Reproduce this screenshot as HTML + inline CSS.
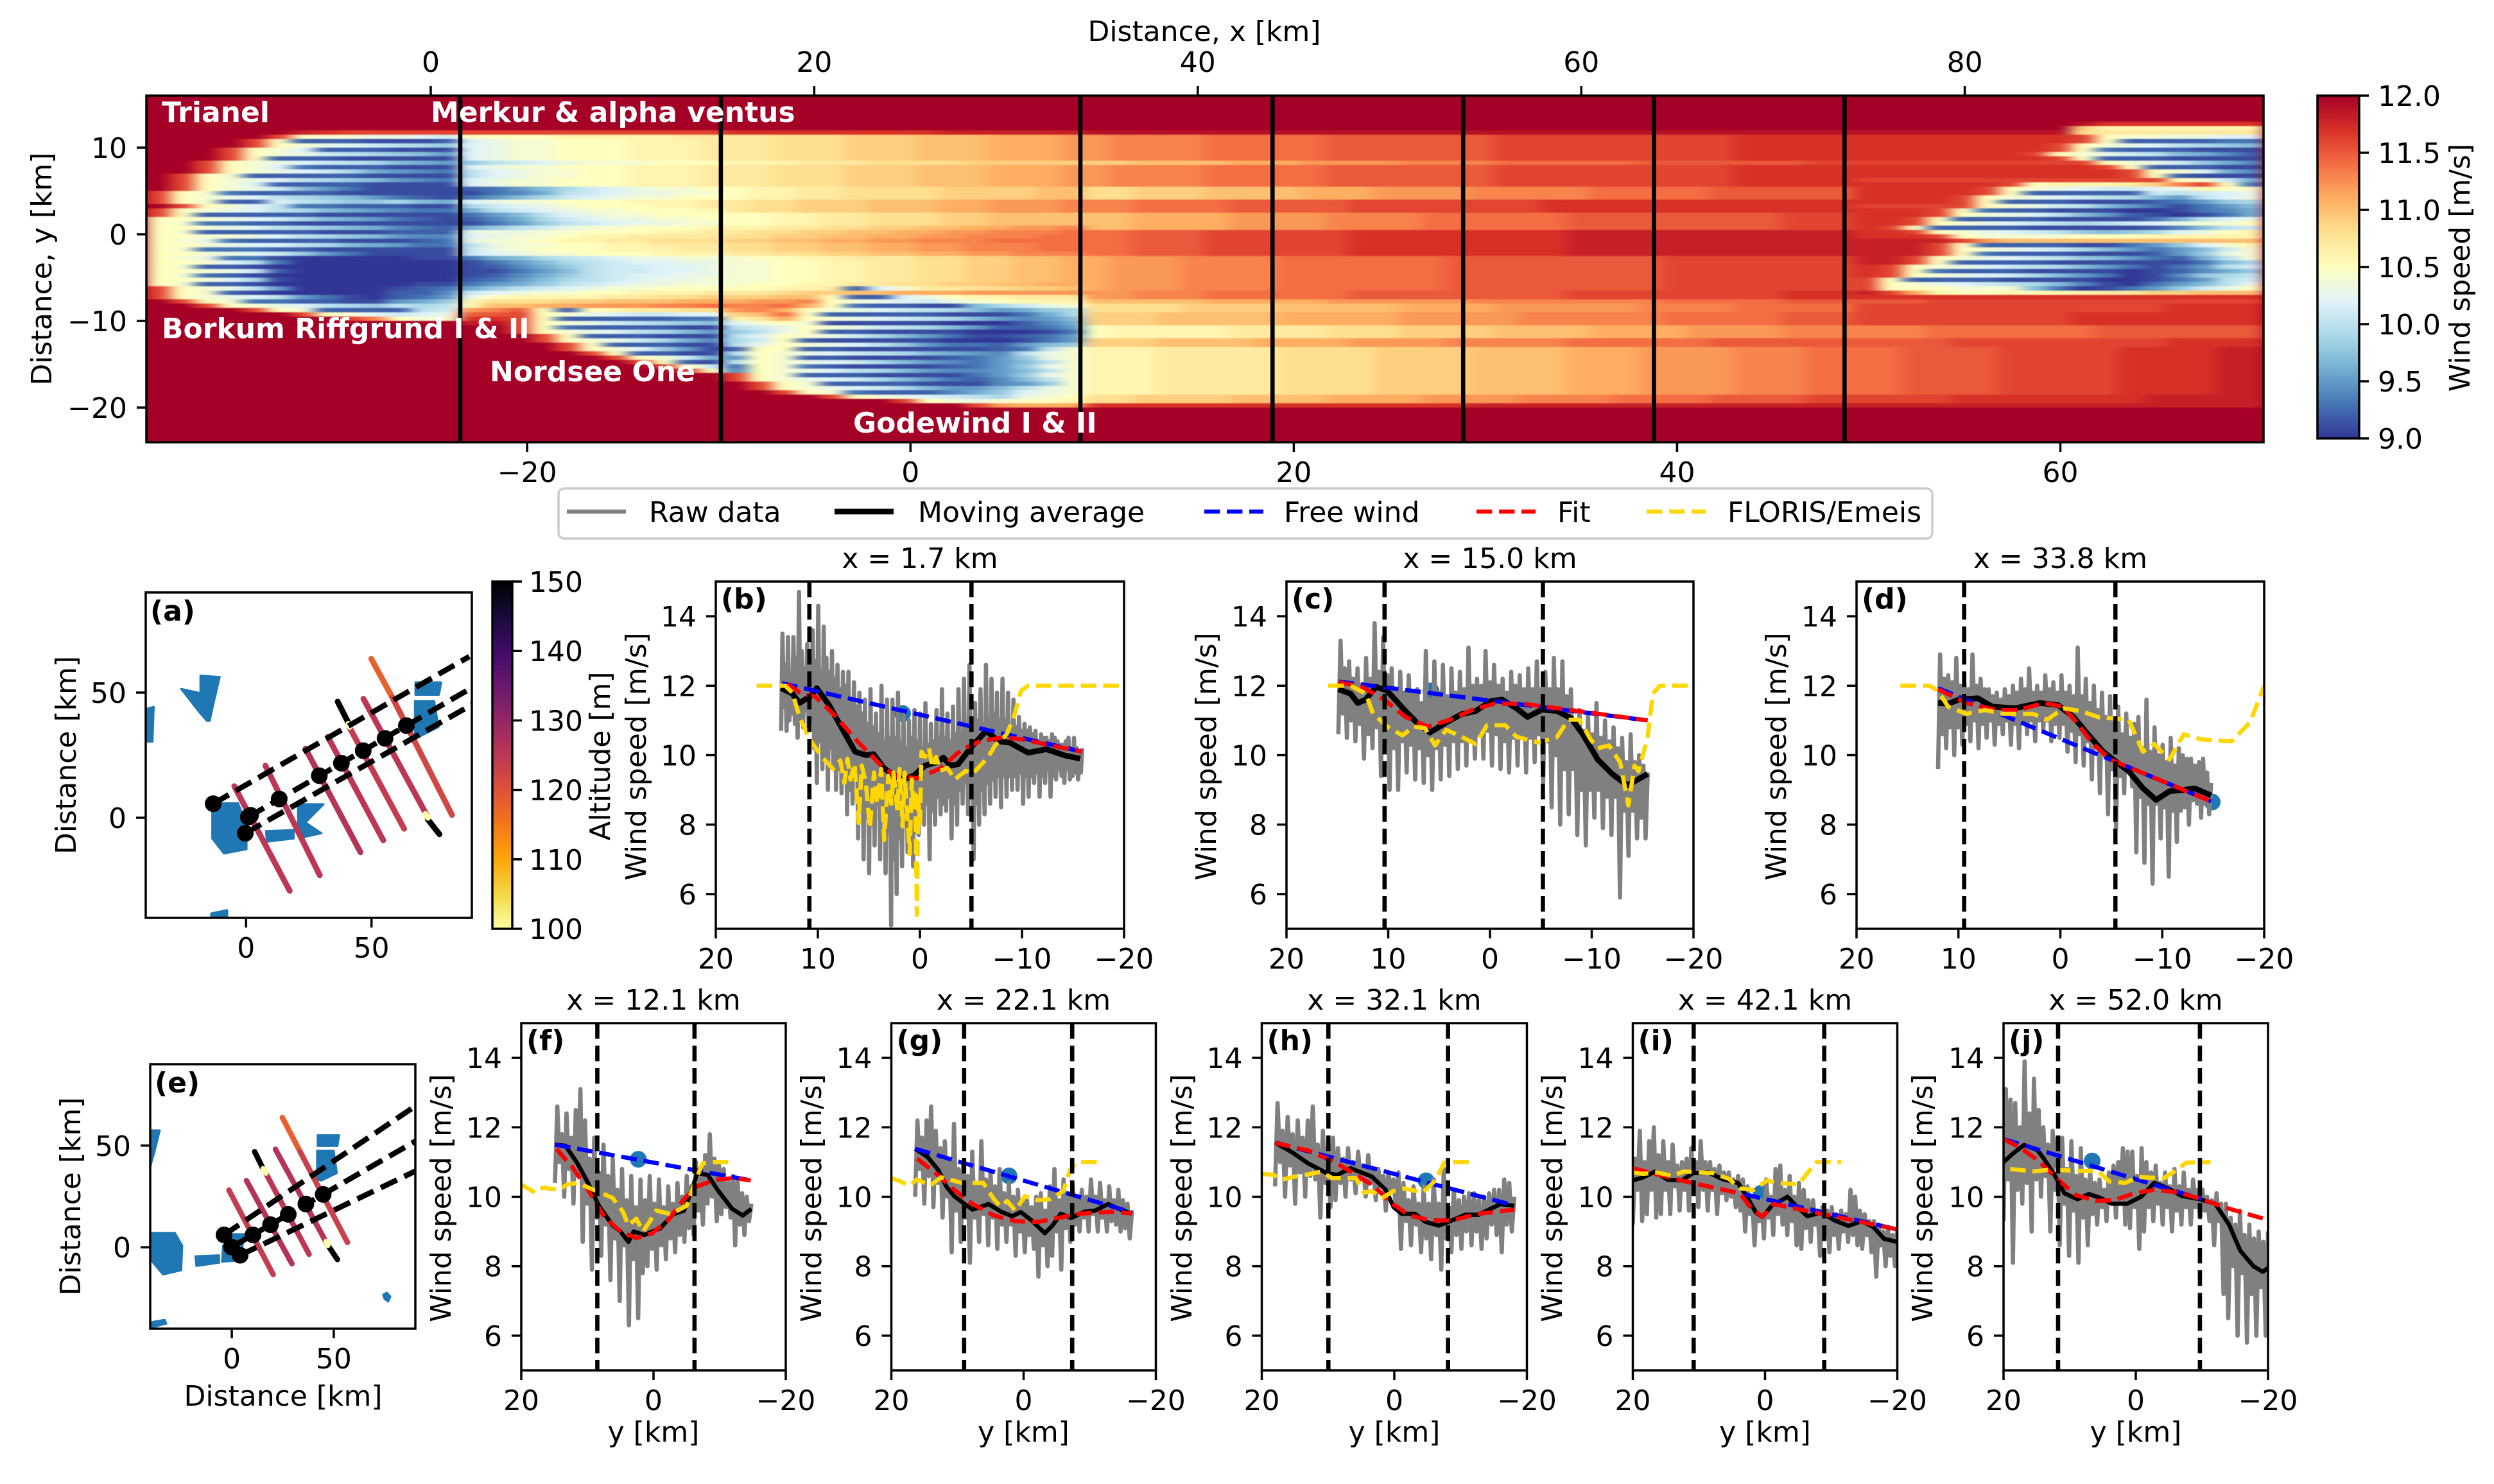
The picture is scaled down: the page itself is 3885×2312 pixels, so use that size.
<!DOCTYPE html>
<html lang="en">
<head>
<meta charset="utf-8">
<title>Wind speed wake transects</title>
<style>
html,body{margin:0;padding:0;background:#fff;}
svg{display:block;font-family:"DejaVu Sans","Liberation Sans",sans-serif;}
text{font-size:44px;fill:#000;}
</style>
</head>
<body>
<svg id="figure" xmlns="http://www.w3.org/2000/svg" width="3885" height="2312" viewBox="0 0 3885 2312">
<defs>
<filter id="heat-blur" filterUnits="userSpaceOnUse" x="170" y="120" width="3420" height="600" color-interpolation-filters="sRGB"><feGaussianBlur stdDeviation="12 0.7"/></filter>
</defs>
<rect width="3885" height="2312" fill="#fff"/>
</svg>
<script>
/* ---------- heatmap values: each character is a level, 0 = 9.0 m/s ... u = 12.0 m/s, 0.1 m/s per level ---------- */
const heatLevels = '0123456789abcdefghijklmnopqrstu';
const heatXRange = [-39.87, 70.6];
const heatYRange = [16, -24];
const uA='uuuuuuuuuuuuu', uB='uuuuuuuuuuu', uC='uuuuuuuuuuuuuuu', uD='uuuuuuuuuuuuuuuuuuuuuuuuuuuuuuuu', uE='uuuuuuuuuuuuuuuuu';
const d1='mnnnnooooopppppppqqqqqqqqqqrrrrr', d2='jjkkkklllmmmmnnnnoooooopppppppqq', d3='iijjjkkkklllmmmmnnnnnooooopppppp';
const d4='nnoooopppppqqqqqqqqrrrrrrrrrrrrr', d5='kkllllmmmmnnnnoooooopppppppppqqq', d6='oopppqqqqqqrrrrrrrrrssssssssssss';
const d7='lmmmnnnnooooooopppppppppqqqqqqqq', d8='mmnnnoooooopppppppppqqqqqqqqqrrr', d9='kkkkklllllmmmmmmnnnnnnnnoooooppp';
const d10='iiiijjjjkkkkkllllmmmmmmnnnnooooo', d11='jjjkkkkklllllmmmmmnnnnnnoooooppp', d12='fggggghhhhiiijjjjkkkkllllmmmmnnn';
const d13='jjjkkkkllllmmmmnnnnnoooooopppppp', d14='ggghhhhhiiiijjjjkkkklllmmmmnnnoo', d15='iijjjjkkkkllllmmmmnnnnooooppppqq';
const d16='rrrrrrrrrrrrrrrrssssssssssssssss', dT='tttttttttttttttttttttttttttttttt';
const bT='cdeefffgggh', cT='hhiiijjjkkklllm', cB='effgghhhiijjkkl', cM='fgghhiiiijjjjkk', cL='hiijjjkkkllmmmn', cK='ffgghhiiijjkkkk', cN='iijjkkllmmnnnoo', cG='eeffgghhiijjkkl';
const heatRows = [
uA+uB+uC+uD+uE,
uA+uB+uC+uD+uE,
uA+uB+uC+uD+uE,
uA+uB+uC+uD+uE,
uA+uB+uC+uD+uE,
uA+uB+uC+uD+uE,
uA+uB+uC+uD+'uuuuuuuuutrrrrrrr',
uA+uB+uC+uD+'uuuuuuuuujggggggg',
'uuuuuusrqqqqq'+'qqqqqqqqqqq'+'rrrrrrrrrssssss'+dT+'tttttttttihhhhhhh',
'uuuuuqfeeddcb'+'ffffggggghh'+cT+d1+'rrrrrrrrrqfeeddcc',
'uuuuqf2221112'+bT+cT+d1+'rrrrrrrrrqf222233',
'uuuuqfedcba98'+bT+cT+d1+'rrrrrrrrqfedca987',
'uuuqfec222111'+bT+cT+d1+'rrrrrrrrqf3222111',
'uuuqfedba9875'+bT+cT+d1+'rrrrrrrqfedba7642',
'uuuqf22211111'+bT+cT+d1+'rrrrrrrrqf2221111',
'uuqfedcba9765'+'8abcdeeefff'+'ggghhhiiiijjjjj'+d2+'qqqqqqqqqqfedb864',
'uuqfec3222111'+bT+cT+d1+'rrrrrrrrrrqf22211',
'uuqfedcb96543'+'acdeeffgggh'+cT+d1+'rrrrrrrrrrrqfec64',
'uqfe222221111'+'acdeeffgggh'+cT+d1+'rrrrrrrrrrrqf2111',
'uqfedca987543'+bT+cT+d1+'qqqqqqqqqqqqqfeb6',
'uqfec22221111'+bT+cT+d1+'rrrrrrqfggghjnqf3',
'uqfedb7531111'+'23579bcdeef'+cM+d3+'rrrrrqfedcbbcdgfe',
'qfe3222211111'+'1346abcddee'+cM+d3+'rrrrrqf22222babcd',
'qfedca9875321'+'3579bcdeeff'+cM+d3+'rrrrqfedcba975acd',
'qfe22ca988976'+bT+cL+d4+'rrrrqf22211123589',
'uqfeca3322211'+'9bcdefffggh'+cL+d4+'qqqqqfedba7531357',
'qfedca9765433'+'6abcdeefffg'+cL+d4+'rrrqf322111001346',
'qf22222111111'+'357acdeefff'+cK+d5+'rrrqfedca75210136',
'ffedcb9765321'+'2469bcddeef'+cK+d5+'rrqf2222111136acd',
'fe33221111111'+'1358abcddee'+cK+d5+'rrqfedcba9abcdeef',
'ffedca9876432'+'68abdeefffg'+'gghhiijjkkllmmn'+d5+'rqf222211111247ab',
'fe22222111222'+'dddeefffggh'+'hiijjkkllmmnnno'+d6+'rrqfedcba8789cdfg',
'ffeedca987544'+'cdeefgghhhh'+cN+d6+'rrrqfeeeefffggggg',
'fed3222211123'+'deefgghhiii'+'jjkkllmmnnnoooo'+d6+'ssssqmkkkkkkkkkkk',
'ffedcca976533'+'adeeffgghhh'+cN+d6+'sssqf222211358ceg',
'fe33322111111'+'bdefffggghh'+cN+d6+'sssqfedcb975357be',
'ffedcb8531111'+'bcdeefffggg'+'hhiijjkkllmmnnn'+d6+'sssqf3222111258de',
'fed3310000011'+'3679abcddee'+cB+d7+'ssqfedcba875326ae',
'ffeca30000000'+'13579abccdd'+cG+d7+'ssqf2222111111379',
'fe22100000000'+'12468abbccd'+cG+d7+'rqfedcba9753135ab',
'ffedb20000000'+'11357abbccd'+cG+d7+'rqf32221111012468',
'fe32100000000'+'12468abccdd'+cG+d7+'rqfedcb975301489a',
'ffec910000000'+'23579abcdde'+cG+d7+'qf2222111100135ab',
'fe22100000011'+'3568abcddee'+'effgghhiijjkkll'+d7+'qfedcba97410357ad',
'qfeda50000123'+'68abcdeefff'+'ffggh2cehhiijjk'+d7+'qfffeee7301358bdf',
'qfe2100000224'+'bcdeeffgggh'+'hhijjkklllmmmmm'+d8+'sqlgffgfgghhjjkkk',
'qfedca5310235'+'dfgggghhiij'+'jjkkf22cdfgghhh'+d8+'rrrrrrrrrrrrrrrrr',
'uqfe332211568'+'giiijjkkkll'+'lmmnfedcbdefggg'+d9+'pppqqqqqqqqqqqqqq',
'uuqfedca98a9a'+'gkkllmmmnno'+'nnolf3221179bde'+d10+'qqqqqqqqqqqqqrrrr',
'uuuuqfe2222ab'+'mnpf2fghhii'+'mnlfedcba975689'+d10+'qqqqqqqqqqqqqrrrr',
'uuuuuuqfecbcd'+'ppqfedcbbcc'+'jkof22222111369'+d11+'qqqqqqqqqrrrrrrrr',
'uuuuuuuuqnfee'+'rrqf2222233'+'ghlfedcba975457'+d11+'qqqqqqqqqrrrrrrrr',
uA+'stqfedba987'+'cefe11111000246'+d11+'qqqqqqqqqrrrrrrrr',
uA+'uuqf3222211'+'abdfedba9752235'+d12+'nnnoooooooppppppp',
uA+'uuqfedca975'+'8adf22111100013'+d12+'nnnoooooooppppppp',
uA+'uuuqf222111'+'acfedb975311235'+d12+'nnnoooooooppppppp',
uA+'uuuqfedb964'+'9bf211111000135'+d13+'ppppqqqqqqqqqrrrr',
uA+'uuuuqf22211'+'adfedca85332578'+d13+'ppppqqqqqqqqqrrrr',
uA+'uuuuqfec851'+'2ff2211111123ae'+d14+'ooppppqqqqqrrrrss',
uA+'uuuuuqf2211'+'afedcba97654ade'+d14+'ooppppqqqqqrrrrss',
uA+'uuuuuuqfeb6'+'5fe2211112358de'+d14+'ooppppqqqqqrrrrss',
uA+'uuuuuuuqf21'+'afedcb9754357ae'+d14+'ooppppqqqqqrrrrss',
uA+'uuuuuuuuqfb'+'3fe3211112358de'+d14+'ooppppqqqqqrrrrss',
uA+'uuuuuuuuuqf'+'4fedca9754457ae'+d14+'ooppppqqqqqrrrrss',
uA+uB+'qfe2221111358de'+d14+'ooppppqqqqqrrrrss',
uA+uB+'qfedcb9753247ae'+d14+'ooppppqqqqqrrrrss',
uA+uB+'uqfe2222111458e'+d14+'ooppppqqqqqrrrrss',
uA+uB+'uqfedcb97557ade'+d14+'ooppppqqqqqrrrrss',
uA+uB+'uuqfe3222468cde'+d14+'ooppppqqqqqrrrrss',
uA+uB+'uuuuqfedcba9def'+d15+'qqqqrrrrrrrrsssss',
uA+uB+'uuuuuuuqfedeffg'+d15+'qqqqrrrrrrrrsssss',
uA+uB+'uuuuuuuuuuqmlll'+d16+'sssssssssssssssss',
uA+uB+uC+uD+uE,
uA+uB+uC+uD+uE,
uA+uB+uC+uD+uE,
uA+uB+uC+uD+uE,
uA+uB+uC+uD+uE,
uA+uB+uC+uD+uE,
uA+uB+uC+uD+uE,
uA+uB+uC+uD+uE
];
const mainBottomTicks = [-20, 0, 20, 40, 60];
const mainTopTicks = [0, 20, 40, 60, 80];
const mainYTicks = [10, 0, -10, -20];
const mainSectionLines = [1.54, 15.13, 33.88, 43.9, 53.84, 63.79, 73.73];
const windTicks = [9, 9.5, 10, 10.5, 11, 11.5, 12];
const altitudeTicks = [100, 110, 120, 130, 140, 150];
const farmNames = ['Trianel','Merkur & alpha ventus','Borkum Riffgrund I & II','Nordsee One','Godewind I & II'];

/* ---------- transect panels ---------- */
const topRowXTicks = [20, 10, 0, -10, -20];
const bottomRowXTicks = [20, 0, -20];
const speedTicks = [6, 8, 10, 12, 14];

const rawSpanB=[13.6,-15.9];
const rawB=[10.7,13.5,11.4,12.6,10.7,13.4,11,12.3,11.2,13.4,10.9,12.8,10.5,14.7,11,13,10.8,12.5,11.3,13.2,10.8,12.6,11,13.6,10.2,12.7,9.2,14.3,10.4,12.4,9.6,13.7,10,12.8,9,12.4,10.2,13,9.6,12.2,9,12.6,9.6,11.9,8.9,12.4,9.4,12,8.3,12.4,9,11.6,8.6,12.1,9.4,11.4,7.6,11.8,8.4,11.2,7,11.6,8.2,10.9,6.6,11.9,8,10.8,7.4,11.2,8.6,10.6,7,12,8.2,10.4,6.6,11.6,7.8,10.5,5.1,11.6,7,10.5,6,11.8,7.6,10.4,6.8,11.2,8,10.2,7.2,11,8.2,10.5,6.8,11.3,7.8,10.4,7.7,11.2,8.4,10.2,8,11.5,8.6,10.3,7,10.9,8.4,10.4,8,11.3,8.8,10.5,8.3,11.9,8.6,10.5,8.4,11.2,8.8,10.4,7.6,11.4,8.6,10.6,8,11.9,9,10.6,8.6,12.2,9.2,10.8,8.3,12.6,9,10.9,7,11.5,8.6,11,8,11.9,9,10.9,8.3,12.6,9.2,11,8.6,12.2,9.3,11.2,8.8,11.8,9.4,11,8.5,12.2,9.4,11,8.8,11.8,9.4,10.8,9,11.6,9.4,10.8,9,11.1,9.5,10.7,8.6,10.9,9.4,10.7,8.8,10.8,9.4,10.6,9.2,10.7,9.5,10.4,8.8,10.6,9.4,10.5,9.2,10.5,9.6,10.4,8.8,10.6,9.4,10.5,9.3,10.4,9.6,10.3,9.4,10.3,9.2,10.4,9.6,10.5,9.3,10.2,9.4,10.5,9.5,10.2,9.3,10.1,9.5,10.2];
const avgB=[[13.6,11.93],[12.5,11.77],[11.8,11.5],[10.7,11.7],[10.1,11.93],[8.9,11.44],[7.8,10.86],[6.35,10.1],[5.3,10],[4.55,10.03],[3.5,9.62],[2.4,9.41],[1.7,9.29],[0.6,9.41],[-0.5,9.7],[-1.6,9.79],[-2.3,9.93],[-3,9.7],[-3.75,9.74],[-5.05,10.24],[-6.5,10.7],[-7.7,10.4],[-8.8,10.36],[-10.6,10.07],[-12.4,10.17],[-14.2,9.99],[-15.7,9.9]];
const freeB=[[13.5,12.07],[-15.9,10.1]];
const fitB=[[13,12.05],[11.5,11.75],[10.3,11.7],[8.2,11.1],[6,10.36],[3.8,9.7],[2.4,9.41],[0.2,9.33],[-2,9.62],[-4.1,10.16],[-5.9,10.4],[-8.1,10.51],[-10.2,10.45],[-13.1,10.26],[-15.9,10.1]];
const florisB=[[16,12],[13.2,12],[12.5,11.8],[11.8,11.1],[10.8,10.45],[9.6,9.95],[8.5,9.6],[7.8,9.85],[7.4,9.2],[7.1,9.9],[6.8,9.3],[6.4,9.75],[6,8.05],[5.7,9.7],[5.3,9.2],[4.9,7.9],[4.5,9.5],[4.2,8.6],[3.8,9.6],[3.5,7.55],[3.1,9.4],[2.8,8.6],[2.6,9.5],[2.2,8.4],[2,9.6],[1.7,7.95],[1.5,9.5],[1.3,8.5],[1,7.15],[0.8,9.3],[0.6,8.4],[0.45,9],[0.3,5.4],[0.15,8.8],[0,7.95],[-0.15,10.1],[-0.5,9.95],[-0.9,10.2],[-1.2,9.65],[-1.6,9.95],[-2,9.55],[-2.7,9.63],[-3.4,9.3],[-4.5,9.55],[-5.2,9.47],[-6.7,9.95],[-7.4,10.3],[-8.5,10.6],[-9.2,11.1],[-9.9,11.85],[-10.6,12],[-20,12]];
const edgesB=[10.83,-5.05];
const markerB=[1.7,11.2];

const rawSpanC=[14.9,-15.5];
const rawC=[10.6,13.3,11.2,12.5,10.5,12.7,11,12.2,10.4,12.5,10.9,12,9.9,12.8,10.6,12.2,10.2,13.8,10.8,12.4,9.4,13.4,10.5,12.3,9,12.5,10.2,11.9,9,12.4,10.4,11.8,9.5,12.3,10.3,11.8,9.3,11.9,10.2,11.5,9.2,13,10,11.6,9,12.7,10.2,11.8,9.3,12.6,10.3,11.7,9.4,12.5,10.4,11.8,9.6,12.4,10.4,11.9,9.7,13.1,10.5,12,9.9,12.2,10.6,12,9.9,13,10.7,12.1,9.7,12.6,10.6,12,9.6,12.2,10.4,11.8,9.5,12.4,10.5,12,9.7,12.3,10.5,11.9,9.5,12.5,10.5,11.9,9.8,12.7,10.6,11.9,9.2,12.4,10.4,11.9,8.5,12.8,10,11.9,8,12.7,9.6,11.7,8.3,11.9,9.6,11,7.7,11.3,9,10.7,7.4,11.2,9,10.6,8.2,11.5,9,10.5,7.9,11,8.8,10.4,7.7,10.8,8.8,10.2,5.9,10.5,8.4,9.8,7.1,10.6,8.4,9.8,7.6,10,8.2,9.7,7.6,9.5];
const avgC=[[14.9,11.9],[13.7,11.77],[13,11.5],[12.2,11.6],[11.2,11.97],[10.1,11.85],[8.3,11.27],[7.2,10.94],[5.9,10.65],[4.3,10.94],[2.8,11.18],[1.4,11.27],[-0.1,11.56],[-1.2,11.6],[-2.6,11.35],[-3.7,11.1],[-5.1,11.31],[-6.6,11.27],[-8,11.06],[-9.1,10.61],[-10.6,9.87],[-12,9.46],[-13.5,9.13],[-15.5,9.46]];
const freeC=[[14.9,12.12],[-15.5,11]];
const fitC=[[14.9,12.1],[12.6,11.97],[10.4,11.6],[8.3,11.1],[6.1,10.82],[3.9,11.02],[1.7,11.31],[-0.4,11.48],[-3.3,11.48],[-15.5,11]];
const florisC=[[15.9,12],[13.7,12],[12.2,11.77],[11.5,11.2],[10.1,10.82],[8.6,10.57],[7.5,10.82],[6.4,10.78],[5.4,10.28],[4.3,10.73],[2.8,10.53],[1.4,10.32],[0.3,10.86],[-1.5,10.86],[-2.6,10.53],[-4.8,10.36],[-6.6,10.53],[-7.7,11.02],[-8.8,11.02],[-9.9,10.45],[-10.6,10.2],[-11.7,10.28],[-12.8,9.79],[-13.6,8.55],[-14.2,9.7],[-14.6,9.54],[-15.5,10.53],[-16,11.77],[-16.7,12],[-20,12]];
const edgesC=[10.36,-5.2];
const markerC=[5.8,11.85];

const rawSpanD=[12,-14.8];
const rawD=[9.6,12.9,10.6,12.2,10.2,12.3,10.8,12.1,10,12.8,10.8,12,10.3,12.1,10.9,11.9,10.4,12.9,11,12,10.2,12.2,10.9,11.9,10.5,11.9,11,11.7,10.3,11.8,10.9,11.6,10.6,11.9,11,11.7,10.3,12,10.9,11.8,10.2,12.2,11,11.9,10.6,12.5,11,11.8,10.4,12,11,11.8,10.7,12.3,11,11.9,10.4,12.1,10.9,11.8,10.5,12.3,10.9,11.8,10.1,12,10.7,11.7,9.8,13.1,10.6,11.7,9.7,12.2,10.4,11.5,9.3,12,10.2,11.3,8.9,11.8,10,11.1,8.3,11.7,9.6,10.9,7.9,11.4,9.4,10.6,8.9,11.2,9.6,10.5,9.1,10.9,7.2,11.1,8.8,10.2,6.9,11.6,8.6,10.1,6.3,10.8,8.6,10,7.6,10.3,8.5,9.8,6.5,10.5,8.4,9.7,7.5,10.2,8.4,10,8.5,9.9,8,9.9,8.7,9.7,8.6,9.8,8.2,9.9,8.6,9.5,8.3,9.2];
const avgD=[[12,11.5],[11,11.48],[9.95,11.6],[8.1,11.64],[6.7,11.4],[4.5,11.35],[2,11.5],[0.2,11.44],[-1.3,11.1],[-2.7,10.6],[-4.2,10.1],[-5.2,9.87],[-6.7,9.54],[-8.1,9.05],[-9.4,8.71],[-10.7,8.96],[-12.1,9],[-13.2,9.04],[-14.8,8.84]];
const freeD=[[12,11.93],[-14.8,8.67]];
const fitD=[[12,11.9],[9.2,11.5],[6.3,11.3],[4.2,11.3],[1.6,11.5],[-0.2,11.4],[-1.6,10.94],[-3.1,10.36],[-4.9,9.87],[-14.8,8.67]];
const florisD=[[15.7,12],[12.8,12],[12,11.85],[11,11.39],[9.2,11.19],[7.4,11.3],[5.6,11.19],[4.2,11.19],[2.7,11.19],[1.3,11.02],[-0.3,11.35],[-2,11.27],[-3.8,11.09],[-6.7,11.02],[-8.1,10.1],[-9.2,10.32],[-10.7,9.87],[-12.1,10.6],[-13.9,10.45],[-16.8,10.4],[-18.6,10.94],[-20,12]];
const edgesD=[9.44,-5.4];
const markerD=[-14.9,8.65];

const rawSpanF=[14.9,-14.8];
const rawF=[10.4,12.6,11,11.8,10,12.4,10.8,11.7,9.8,12.5,10.6,13.1,8.7,12.2,9.8,11.1,7.9,11.7,9.4,10.7,8.3,11.5,9.2,10.6,7.6,11.1,8.8,10.2,7,10.8,8.6,9.9,6.3,10.6,8.2,9.7,6.5,10.5,7.8,9.9,8,10.6,8.5,9.8,7.9,10.5,8.6,9.7,8.2,10.3,8.8,9.8,8.4,10.4,8.9,10,8.7,10.6,9.1,10.3,8.9,11,9.6,10.6,9.2,11.2,9.8,11.8,10,11.1,9.3,10.9,9.5,10.8,9.7,10.4,9.4,10.6,8.6,10.5,9.2,10.1,8.9,10,9.3,9.8];
const avgF=[[14.9,11.5],[13.3,11.47],[11.5,10.96],[9.9,10.4],[8.25,9.74],[6.2,9.18],[5,9],[3.8,8.7],[3,9],[1.4,8.9],[-1,9.09],[-3,9.5],[-4.6,9.6],[-5.8,10.2],[-6.6,10.68],[-8.2,10.63],[-9.8,10.17],[-11.9,9.65],[-13.5,9.46],[-14.8,9.65]];
const freeF=[[14.9,11.5],[-14.8,10.47]];
const fitF=[[14.7,11.38],[12.3,10.86],[9.9,10.2],[7.45,9.42],[5,9],[2.6,8.81],[0.2,8.95],[-2.2,9.32],[-4.6,9.93],[-6.6,10.3],[-9.4,10.49],[-12.3,10.54],[-14.7,10.47]];
const florisF=[[20,10.35],[17.9,10.12],[16.7,10.26],[14.3,10.2],[13.1,10.35],[11.5,10.4],[8.7,10.17],[6.2,9.97],[4.6,9.56],[3.8,9.18],[2.6,9.37],[1.6,9],[0.6,9.28],[-0.4,9.6],[-2.6,9.5],[-5,9.74],[-6.2,10.4],[-7.4,10.96],[-9,11],[-11.3,11]];
const edgesF=[8.5,-6.2];
const markerF=[2.3,11.08];

const rawSpanG=[16.4,-16.4];
const rawG=[10,12.2,10.8,11.7,9.8,12.2,10.6,12.6,9.7,11.9,10.4,11.4,9.4,11.6,10,11,8.4,12.1,9.6,10.8,8.7,11,9.4,10.6,8.1,11.3,9.4,10.4,8.7,11.6,9.5,10.5,8.6,10.7,9.4,10.3,8.5,10.8,9.2,10.1,8.7,10.4,9.2,10,8.3,10.2,9,9.9,8.4,9.9,8.9,9.7,8.5,10,7.7,10.1,8.6,9.6,8,10.3,8.3,10.8,9,9.9,7.9,10.5,9.1,10.1,8.7,10.4,9.2,10,9,10.2,9.4,10,9,10.5,9.5,10,9,10.4,9.4,9.9,9,10.3,9.3,9.9,9.2,10.2,9,9.9,9.1,9.8,8.8,9.6];
const avgG=[[16.4,11.38],[14.5,11.14],[12.9,10.77],[11.7,10.3],[10.5,10.02],[8.9,9.79],[7.7,9.63],[5.3,9.79],[3.3,9.56],[1.7,9.44],[0.45,9.56],[-1.2,9.32],[-3.2,8.95],[-4.4,9.18],[-5.6,9.51],[-7.2,9.39],[-9.2,9.57],[-10.8,9.6],[-12.8,9.79],[-14.4,9.65],[-16.4,9.51]];
const freeG=[[16.4,11.38],[-16.4,9.55]];
const fitG=[[16.1,11.1],[13.3,10.68],[10.5,10.2],[7.7,9.79],[4.5,9.46],[1.25,9.3],[-2,9.27],[-5.2,9.39],[-8.4,9.51],[-13.2,9.57],[-16.4,9.52]];
const florisG=[[20,10.54],[18.6,10.44],[17.3,10.32],[16.1,10.5],[14.1,10.32],[12.5,10.56],[9.3,10.4],[6.1,10.4],[4.5,9.93],[3.5,9.72],[2.5,9.88],[1.25,9.6],[-0.2,10.02],[-2,9.9],[-4,9.93],[-6,10.16],[-7,10.77],[-8,11],[-11.2,11]];
const edgesG=[9,-7.35];
const markerG=[2.2,10.6];

const rawSpanH=[18,-18.1];
const rawH=[10.3,12.7,11,11.9,10,12.3,10.9,11.8,9.8,12.2,10.7,11.7,10,12.2,10.6,12.6,10.5,11.5,9.4,11.9,10.4,11.4,9.7,11.7,9.9,11.4,10.4,11.1,10,11.4,10.5,11,10.1,11.3,10.5,10.9,10,11.2,10.4,10.8,9.9,10.8,10.3,10.6,9.6,10.7,10.2,10.5,9.7,10.7,8.5,10.4,9.3,9.9,8.6,10.3,9.2,9.8,8.4,10.3,8.8,9.8,8.2,10.5,8.9,9.8,7.9,10.8,8.8,9.7,8.4,10.2,8.9,9.9,8.5,10,9,10.1,8.6,10.1,9,9.9,8.5,10,8.8,10.1,9.2,10.2,8.9,10.2,8.4,10.5,9.2,10.4,9,10];
const avgH=[[18,11.56],[15.4,11.28],[13,10.96],[10.2,10.68],[8.6,10.63],[6.6,10.82],[3.4,10.58],[1.3,10.2],[0.1,9.7],[-1.1,9.51],[-3.1,9.51],[-4.7,9.28],[-6.7,9.17],[-8.7,9.32],[-10.7,9.48],[-12.7,9.48],[-16,9.79],[-18.1,9.74]];
const freeH=[[18,11.56],[-18.1,9.75]];
const fitH=[[18,11.55],[13,11.33],[9,11],[5.8,10.63],[3,10.3],[0.6,9.84],[-2.3,9.46],[-5.5,9.32],[-8.7,9.32],[-12.7,9.51],[-18.1,9.63]];
const florisH=[[20,10.66],[18.2,10.63],[17,10.49],[15,10.58],[13.4,10.63],[11,10.72],[9.4,10.54],[5.8,10.54],[4.6,10.12],[3.4,10.16],[1.8,9.97],[0.1,10.17],[-1.5,10.24],[-4.3,10.12],[-6.3,10.49],[-7.5,10.98],[-8.7,11],[-11.5,11]];
const edgesH=[9.95,-8.1];
const markerH=[-4.8,10.46];

const rawSpanI=[20,-20];
const rawI=[9.2,11.1,10.2,11.9,9.3,11,9.5,11.6,10.2,12,9.4,11.2,9.5,11.6,10.2,11,9.5,11.5,10.3,10.9,9.6,11,10.2,11.1,9.6,11.4,10.1,11,9.7,11.6,10.2,11,9.6,11,10.2,10.8,9.5,10.9,10.1,10.7,9.9,10.7,10,10.5,9.7,10.6,9.6,10.5,9,10.3,9.5,10,8.6,10,9.3,9.9,8.8,10.5,9.4,10,8.9,10.8,9.5,10.9,9.2,10.2,8.9,10.6,9.3,10,8.6,10.4,8.5,10.2,9.1,9.9,8.7,9.9,9.2,9.6,8.3,9.7,8.9,9.6,8.4,9.7,8.9,9.5,8.5,9.6,9,9.5,8.7,10.2,8.9,10,8.6,9.6,8.5,9.5,8.9,9.3,8.4,9.3,7.7,9.2,8.6,9,8,9.1,8.3,8.9,8,9.1];
const avgI=[[20,10.47],[18.4,10.56],[16.7,10.72],[14.7,10.49],[12.6,10.47],[10.9,10.68],[8.55,10.7],[6.5,10.51],[4.1,10.4],[2.8,10.02],[1.4,9.55],[0.4,9.42],[-1,9.74],[-3.4,10],[-4.7,9.74],[-6.4,9.44],[-8.5,9.55],[-10.5,9.32],[-12.6,9.16],[-14.6,9.3],[-16.3,9.14],[-18,8.79],[-20,8.7]];
const freeI=[[3.1,10.07],[-20,9.06]];
const fitI=[[20,10.82],[12,10.44],[3.8,10.1],[2.4,9.74],[0.4,9.42],[-1.3,9.79],[-20,9.06]];
const florisI=[[20,10.7],[18.4,10.66],[16.4,10.7],[14,10.6],[12.3,10.73],[7.9,10.68],[5.5,10.52],[3.8,10.24],[1.7,10.2],[-0.3,10.47],[-1.7,10.4],[-5.1,10.36],[-6.4,10.68],[-7.8,11],[-11.5,11]];
const edgesI=[10.8,-8.95];
const markerI=[0.6,10.1];

const rawSpanJ=[20,-20];
const rawJ=[9.3,13.1,10.5,12.8,8.1,12.7,10.2,12,9.8,13.9,10.4,12.4,9,13.4,10.5,12.5,10,12,10.6,11.5,9,11.9,10.2,11.7,8.6,11.7,9.8,10.8,8.3,11.6,9.6,10.6,8.1,11.4,9.4,10.5,8.6,10.8,9.5,10.4,9.2,10.5,9.7,10.2,9.3,10.7,9.8,10.9,9.4,11,9.8,11.4,9.2,11.3,9.1,11.3,9.7,10.6,8.5,11.4,9,11,9.7,10.7,9.3,10.9,9.8,10.4,9.2,10.7,9.7,10.3,9,10.8,9.6,10.3,9.2,10.7,9.7,10.2,9.2,10.5,9.7,10.2,9.4,10.2,9.6,10,9.3,9.9,8.6,10.1,9.3,9.8,7.2,9.8,6.5,9.4,8,9.2,6,9.6,7.8,8.9,5.8,9.2,7.2,8.8,6,9,7.4,8.7,6,9];
const avgJ=[[20,11],[18.6,11.24],[16.9,11.49],[14.9,11.35],[13.9,11.1],[12.2,10.6],[10.8,10.1],[8.8,9.93],[7.1,10.08],[5.4,9.97],[3.65,9.8],[1.3,9.8],[-0.8,10],[-2.8,10.4],[-4.9,10.24],[-6.9,10.03],[-9.6,9.93],[-12,9.8],[-14.1,9.2],[-15.8,8.45],[-17.8,8],[-19.2,7.84],[-20,7.95]];
const freeJ=[[20,11.66],[-10,9.93]];
const fitJ=[[20,11.66],[17.6,11.43],[14.9,11.06],[11.8,10.5],[9.1,10.05],[6,9.88],[3.3,9.9],[0.25,10.1],[-2.8,10.2],[-6.2,10.13],[-9.6,9.95],[-13.7,9.68],[-20,9.33]];
const florisJ=[[19,10.8],[15.6,10.73],[12.85,10.78],[9.4,10.75],[5.7,10.74],[4,10.44],[1.6,10.4],[-0.4,10.57],[-4.2,10.53],[-6.2,10.77],[-7.6,10.98],[-11.3,11]];
const edgesJ=[11.75,-9.7];
const markerJ=[6.6,11.03];

/* ---------- map panels (km) ---------- */
const mapTicks = [0, 50];
const mapAFarms=[[[-40,43.4],[-36.8,44.3],[-37.3,30.4],[-40,30.4]],[[-18.2,56.8],[-10.5,56.2],[-12.8,46.4],[-14.5,38.7],[-15.6,38.7],[-18.6,42.1],[-25.9,51.5],[-18.2,49.8]],[[-13.5,5.8],[-3.2,5.8],[0.2,-2.3],[0.2,-12.6],[-8.8,-14.3],[-13.5,-8.3]],[[7.9,-5.3],[19,-4.9],[19,-8.3],[8.3,-9.6]],[[20.7,5.4],[30.9,5.4],[23.7,-1.9],[30.1,-6.2],[22.4,-7.9],[20.7,-4]],[[67.5,54.1],[77.8,54.1],[76.9,49.1],[67.5,49.1]],[[67.3,46.6],[75,46.6],[76.7,36.2],[68.1,31.9],[67.3,31.9]],[[-13.9,-38.2],[-7.5,-36.9],[-7.5,-39.9],[-13.9,-39.9]]];
const mapATracks=[[-4.7,12.6,17.4,-29.2,125],[7.7,20.8,29.4,-23,125],[23.7,27.6,45.6,-13.8,126],[32.6,32.3,54.7,-9,125],[41.2,36.2,63,-4.4,124],[46.8,47.5,72,1.1,125],[49.9,63.5,58.3,48.1,118],[58.3,48.1,82.1,1.1,122],[36.5,46.4,40.8,37.9,150],[72.4,-0.6,77.1,-6.6,150],[40.8,37.5,41.3,36.3,100],[71.5,1.5,72.5,0,100]];
const mapAWakes=[[-13.1,5.6,89,64.4],[0.9,0.3,90.8,52.4],[-0.3,-6.2,90.8,45.6]];
const mapADots=[[-13.1,5.6],[0.9,0.3],[1.8,1],[-0.3,-6.2],[13.2,7.5],[29.2,16.8],[38,21.8],[46.7,26.8],[55.4,31.7],[63.9,36.8]];

const mapEFarms=[[[-40,57.5],[-35.3,57.5],[-37.9,47],[-40,39.6]],[[-39.5,7.1],[-27.9,7.1],[-24.3,0.8],[-24.8,-11.3],[-33.7,-13.4],[-39,-7.1]],[[-17.8,-4.4],[-6.2,-3.9],[-6.2,-7.6],[-17.4,-9.2]],[[0.4,6.4],[6.2,6.4],[4.1,-6.5],[-4.8,-7.1],[-4.3,0.8]],[[42.1,55.1],[52.6,55.1],[51.8,49.8],[42.1,49.8]],[[41.8,47.5],[50,47.5],[51.5,36.5],[43.9,32.8],[41.8,33.3]],[[74.2,-23.3],[76,-22.3],[77.8,-24.2],[76.7,-26.7],[74.9,-25.4]],[[-39.5,-36.8],[-32.9,-35.6],[-32.1,-37.5],[-39,-39.3]]];
const mapETracks=[[-1.4,28.1,20.3,-13.4,124],[7.2,32.8,29.5,-8.1,126],[16.1,37.5,37.9,-3.4,125],[21.4,48.2,46.6,1.9,126],[24.8,63.8,33.5,47,118],[33.5,47,56.7,2.4,123],[11.2,47,15.1,39.1,150],[47.6,0.3,51.8,-6,150],[15.4,38.6,16.7,36.5,100],[46.3,2.9,47.1,1,100]];
const mapEWakes=[[-3.8,6.1,90.1,69.5],[-0.1,0.1,90.1,52.2],[4.1,-3.9,90.1,37.5]];
const mapEDots=[[-3.8,6.1],[-0.1,0.1],[4.1,-3.9],[10.4,6.1],[19,11.1],[27.7,16.2],[36.3,21.3],[44.8,26]];

/* ---------- colour scales ---------- */
const rdYlBuStops=['#313695','#4575b4','#74add1','#abd9e9','#e0f3f8','#ffffbf','#fee090','#fdae61','#f46d43','#d73027','#a50026'];
const infernoReversedStops=['#fcffa4','#f6d746','#fca50a','#f37819','#dd513a','#bc3754','#932667','#6a176e','#420a68','#160b39','#000004'];

const NS='http://www.w3.org/2000/svg';
const svg=document.getElementById('figure');
const TICK=15, SPINE=3.5, LW=6.6;
const DASH='24.4 10.6';
const GOLD='#ffd700', GRAY='#808080', FARM='#1f77b4';

function linear(d0,d1,r0,r1){return function(v){return r0+(v-d0)/(d1-d0)*(r1-r0);};}
function hexToRgb(h){return [parseInt(h.slice(1,3),16),parseInt(h.slice(3,5),16),parseInt(h.slice(5,7),16)];}
function sample(stops,t){
  t=Math.max(0,Math.min(1,t));
  const p=t*(stops.length-1), i=Math.min(Math.floor(p),stops.length-2), f=p-i;
  const a=hexToRgb(stops[i]), b=hexToRgb(stops[i+1]);
  return 'rgb('+Math.round(a[0]+(b[0]-a[0])*f)+','+Math.round(a[1]+(b[1]-a[1])*f)+','+Math.round(a[2]+(b[2]-a[2])*f)+')';
}
function mk(parent,tag,attrs){
  const el=document.createElementNS(NS,tag);
  for(const k in attrs){el.setAttribute(k,attrs[k]);}
  parent.appendChild(el);
  return el;
}
function addText(parent,name,str,x,y,anchor,extra){
  const el=mk(parent,'text',Object.assign({x:x,y:y,'text-anchor':anchor||'middle'},extra||{}));
  el.textContent=str;
  
  
  return el;
}
function addRotated(parent,name,str,x,y){
  const el=mk(parent,'text',{x:0,y:0,'text-anchor':'middle',transform:'translate('+x+' '+y+') rotate(-90)'});
  el.textContent=str;
  
  
  return el;
}
function addLine(parent,name,x1,y1,x2,y2,stroke,width,dash){
  const attrs={x1:x1,y1:y1,x2:x2,y2:y2,stroke:stroke,'stroke-width':width};
  if(dash){attrs['stroke-dasharray']=dash;}
  const el=mk(parent,'line',attrs);
  
  
  return el;
}
function addPath(parent,name,pts,stroke,width,dash){
  const attrs={points:pts.map(function(p){return p[0].toFixed(1)+','+p[1].toFixed(1);}).join(' '),fill:'none',stroke:stroke,'stroke-width':width,'stroke-linejoin':'round'};
  if(dash){attrs['stroke-dasharray']=dash;}
  const el=mk(parent,'polyline',attrs);
  
  
  return el;
}
function addFrame(parent,name,x,y,w,h){
  const el=mk(parent,'rect',{x:x,y:y,width:w,height:h,fill:'none',stroke:'#000','stroke-width':SPINE});
  
  
  return el;
}
function addClip(id,x,y,w,h){
  const defs=svg.querySelector('defs');
  const c=mk(defs,'clipPath',{id:id});
  mk(c,'rect',{x:x,y:y,width:w,height:h});
}
function fmtTick(v){return String(v).replace('-','\u2212');}
function newGroup(name,attrs){
  const g=mk(svg,'g',attrs||{});
  
  
  return g;
}
function xTicks(g,ticks,sx,bottom){
  ticks.forEach(function(t){
    addLine(g,'x-tick-mark',sx(t),bottom,sx(t),bottom+TICK,'#000',SPINE);
    addText(g,'x-tick-label',fmtTick(t),sx(t),bottom+62,'middle');
  });
}
function yTicks(g,ticks,sy,left){
  ticks.forEach(function(t){
    addLine(g,'y-tick-mark',left-TICK,sy(t),left,sy(t),'#000',SPINE);
    addText(g,'y-tick-label',fmtTick(t),left-30,sy(t)+16,'end');
  });
}

/* ---------- main heatmap ---------- */
(function(){
  const L=228,T=149,W=3298,H=540;
  const g=newGroup('main-heatmap-panel');
  addClip('clip-main',L,T,W,H);
  const sx=linear(heatXRange[0],heatXRange[1],L,L+W);
  const sy=linear(heatYRange[0],heatYRange[1],T,T+H);
  const sTop=linear(-14.83,95.58,L,L+W);
  const colorWind=function(v){return sample(rdYlBuStops,(v-9)/3);};
  const clip=mk(g,'g',{'clip-path':'url(#clip-main)'});
  const under=mk(clip,'rect',{x:L,y:T,width:W,height:H,fill:'#a50026'});
  
  
  const cells=mk(clip,'g',{filter:'url(#heat-blur)'});
  
  
  const nRows=heatRows.length, nCols=88;
  const dx=(heatXRange[1]-heatXRange[0])/nCols, dy=(heatYRange[1]-heatYRange[0])/nRows;
  heatRows.forEach(function(row,r){
    for(let c=0;c<row.length&&c<nCols;c++){
      const value=9+0.1*heatLevels.indexOf(row[c]);
      const x0=sx(heatXRange[0]+c*dx), x1=sx(heatXRange[0]+(c+1)*dx);
      const y0=sy(heatYRange[0]+r*dy), y1=sy(heatYRange[0]+(r+1)*dy);
      const cell=mk(cells,'rect',{x:x0.toFixed(1),y:y0.toFixed(1),width:(x1-x0+0.6).toFixed(1),height:(y1-y0+0.6).toFixed(1),fill:colorWind(value)});
      
      
    }
  });
  mainSectionLines.forEach(function(v){
    addLine(clip,'section-line',sTop(v),T,sTop(v),T+H,'#000',LW);
  });
  const labelPositions=[[252,190],[671,190],[252,527],[763,594],[1329,674]];
  farmNames.forEach(function(n,i){
    addText(g,'farm-label',n,labelPositions[i][0],labelPositions[i][1],'start',{'font-weight':'bold',style:'fill:#fff'});
  });
  addFrame(g,'main-heatmap-frame',L,T,W,H);
  xTicks(g,mainBottomTicks,sx,T+H);
  mainTopTicks.forEach(function(t){
    addLine(g,'top-x-tick-mark',sTop(t),T-TICK,sTop(t),T,'#000',SPINE);
    addText(g,'top-x-tick-label',fmtTick(t),sTop(t),112,'middle');
  });
  yTicks(g,mainYTicks,sy,L);
  addText(g,'top-x-axis-title','Distance, x [km]',1876,64,'middle');
  addRotated(g,'y-axis-title','Distance, y [km]',80,419);

  /* wind colourbar */
  const defs=svg.querySelector('defs');
  const grad=mk(defs,'linearGradient',{id:'wind-gradient',x1:0,y1:1,x2:0,y2:0});
  rdYlBuStops.forEach(function(s,i){mk(grad,'stop',{offset:(i/(rdYlBuStops.length-1)),'stop-color':s});});
  const cb=newGroup('wind-colorbar');
  const cbar=mk(cb,'rect',{x:3610,y:149,width:65,height:534,fill:'url(#wind-gradient)'});
  
  
  addFrame(cb,'wind-colorbar-frame',3610,149,65,534);
  const scb=linear(9,12,683,149);
  windTicks.forEach(function(t){
    addLine(cb,'colorbar-tick-mark',3675,scb(t),3690,scb(t),'#000',SPINE);
    addText(cb,'colorbar-tick-label',t.toFixed(1),3704,scb(t)+16,'start');
  });
  addRotated(cb,'colorbar-title','Wind speed [m/s]',3847,417);
})();

/* ---------- legend ---------- */
(function(){
  const g=newGroup('legend');
  const box=mk(g,'rect',{x:870,y:761,width:2140,height:78,rx:9,ry:9,fill:'#fff',stroke:'#ccc','stroke-width':3.5});
  
  
  const entries=[
    ['legend-raw','Raw data',GRAY,LW,null,883,1011],
    ['legend-moving-average','Moving average','#000',8.8,null,1300,1430],
    ['legend-free-wind','Free wind','#0000ff',LW,DASH,1876,2000],
    ['legend-fit','Fit','#ff0000',LW,DASH,2300,2426],
    ['legend-floris','FLORIS/Emeis',GOLD,LW,DASH,2565,2691]
  ];
  entries.forEach(function(e){
    addLine(g,e[0]+'-line',e[5],797,e[5]+92,797,e[2],e[3],e[4]);
    addText(g,e[0]+'-label',e[1],e[6],813,'start');
  });
})();

/* ---------- map panels ---------- */
function drawMap(id,L,T,W,H,farms,tracks,wakes,dots,trackWidth,letter,xTitle,titleX,titleBaseY,yTitleX){
  const g=newGroup('map-panel-'+id);
  addClip('clip-map-'+id,L,T,W,H);
  const sx=linear(-40,90,L,L+W), sy=linear(-40,90,T+H,T);
  const c=mk(g,'g',{'clip-path':'url(#clip-map-'+id+')'});
  farms.forEach(function(f){
    const el=mk(c,'polygon',{points:f.map(function(p){return sx(p[0]).toFixed(1)+','+sy(p[1]).toFixed(1);}).join(' '),fill:FARM,stroke:FARM,'stroke-width':3,'stroke-linejoin':'round'});
    
    
  });
  tracks.forEach(function(t){
    const colour=sample(infernoReversedStops,(t[4]-100)/50);
    const el=mk(c,'line',{x1:sx(t[0]),y1:sy(t[1]),x2:sx(t[2]),y2:sy(t[3]),stroke:colour,'stroke-width':trackWidth,'stroke-linecap':'round'});
    
    
  });
  wakes.forEach(function(w){
    addLine(c,'wake-centre-dashed-line',sx(w[0]),sy(w[1]),sx(w[2]),sy(w[3]),'#000',8.5,'28 12.5');
  });
  dots.forEach(function(d){
    const el=mk(c,'circle',{cx:sx(d[0]),cy:sy(d[1]),r:13,fill:'#000'});
    
    
  });
  addFrame(g,'map-frame',L,T,W,H);
  xTicks(g,mapTicks,sx,T+H);
  yTicks(g,mapTicks,sy,L);
  addText(g,'panel-letter',letter,L+7,T+44,'start',{'font-weight':'bold'});
  addRotated(g,'map-y-axis-title','Distance [km]',yTitleX,T+H/2);
  if(xTitle){addText(g,'map-x-axis-title',xTitle,titleX,titleBaseY,'middle');}
}
drawMap('a',227,923,508,507,mapAFarms,mapATracks,mapAWakes,mapADots,9,'(a)',null,0,0,118);
drawMap('e',234,1658,413,412,mapEFarms,mapETracks,mapEWakes,mapEDots,8.5,'(e)','Distance [km]',441,2190,125);

/* altitude colourbar */
(function(){
  const defs=svg.querySelector('defs');
  const grad=mk(defs,'linearGradient',{id:'altitude-gradient',x1:0,y1:1,x2:0,y2:0});
  infernoReversedStops.forEach(function(s,i){mk(grad,'stop',{offset:(i/(infernoReversedStops.length-1)),'stop-color':s});});
  const g=newGroup('altitude-colorbar');
  const bar=mk(g,'rect',{x:767,y:906,width:31,height:541,fill:'url(#altitude-gradient)'});
  
  
  addFrame(g,'altitude-colorbar-frame',767,906,31,541);
  const s=linear(100,150,1447,906);
  altitudeTicks.forEach(function(t){
    addLine(g,'altitude-tick-mark',798,s(t),813,s(t),'#000',SPINE);
    addText(g,'altitude-tick-label',String(t),824,s(t)+16,'start');
  });
  addRotated(g,'altitude-title','Altitude [m]',950,1178);
})();

/* ---------- transect panels ---------- */
function drawTransect(p){
  const g=newGroup('transect-panel-'+p.id);
  addClip('clip-'+p.id,p.L,p.T,p.W,p.H);
  const sx=linear(20,-20,p.L,p.L+p.W), sy=linear(5,15,p.T+p.H,p.T);
  const xy=function(a){return a.map(function(q){return [sx(q[0]),sy(q[1])];});};
  const c=mk(g,'g',{'clip-path':'url(#clip-'+p.id+')'});
  const m=mk(c,'circle',{cx:sx(p.marker[0]),cy:sy(p.marker[1]),r:13,fill:FARM});
  
  
  const n=p.raw.length;
  const rawPts=p.raw.map(function(v,i){
    return [sx(p.span[0]+(p.span[1]-p.span[0])*i/(n-1)),sy(v)];
  });
  addPath(c,'raw-data-line',rawPts,GRAY,LW);
  addPath(c,'moving-average-line',xy(p.avg),'#000',p.avgWidth);
  addPath(c,'free-wind-line',xy(p.free),'#0000ff',LW,DASH);
  addPath(c,'fit-line',xy(p.fit),'#ff0000',LW,DASH);
  addPath(c,'floris-line',xy(p.floris),GOLD,LW,DASH);
  p.edges.forEach(function(e){
    addLine(c,'wake-edge-line',sx(e),p.T,sx(e),p.T+p.H,'#000',LW,DASH);
  });
  addFrame(g,'panel-frame',p.L,p.T,p.W,p.H);
  xTicks(g,p.xt,sx,p.T+p.H);
  yTicks(g,speedTicks,sy,p.L);
  addText(g,'panel-title',p.title,p.L+p.W/2,p.T-21,'middle');
  addText(g,'panel-letter','('+p.id+')',p.L+8,p.T+42,'start',{'font-weight':'bold'});
  addRotated(g,'y-axis-title','Wind speed [m/s]',p.yTitleX,p.T+p.H/2+2);
  if(p.xLabel){addText(g,'x-axis-title',p.xLabel,p.L+p.W/2,2246,'middle');}
}
drawTransect({id:'b',title:'x = 1.7 km',L:1115,T:906,W:636,H:541,raw:rawB,span:rawSpanB,avg:avgB,free:freeB,fit:fitB,floris:florisB,edges:edgesB,marker:markerB,avgWidth:8.8,xt:topRowXTicks,yTitleX:1006});
drawTransect({id:'c',title:'x = 15.0 km',L:2004,T:906,W:634,H:541,raw:rawC,span:rawSpanC,avg:avgC,free:freeC,fit:fitC,floris:florisC,edges:edgesC,marker:markerC,avgWidth:8.8,xt:topRowXTicks,yTitleX:1894});
drawTransect({id:'d',title:'x = 33.8 km',L:2892,T:906,W:635,H:541,raw:rawD,span:rawSpanD,avg:avgD,free:freeD,fit:fitD,floris:florisD,edges:edgesD,marker:markerD,avgWidth:8.8,xt:topRowXTicks,yTitleX:2782});
drawTransect({id:'f',title:'x = 12.1 km',L:812,T:1594,W:412,H:541,raw:rawF,span:rawSpanF,avg:avgF,free:freeF,fit:fitF,floris:florisF,edges:edgesF,marker:markerF,avgWidth:6.6,xt:bottomRowXTicks,yTitleX:702,xLabel:'y [km]'});
drawTransect({id:'g',title:'x = 22.1 km',L:1388.5,T:1594,W:412,H:541,raw:rawG,span:rawSpanG,avg:avgG,free:freeG,fit:fitG,floris:florisG,edges:edgesG,marker:markerG,avgWidth:6.6,xt:bottomRowXTicks,yTitleX:1279,xLabel:'y [km]'});
drawTransect({id:'h',title:'x = 32.1 km',L:1965.5,T:1594,W:413,H:541,raw:rawH,span:rawSpanH,avg:avgH,free:freeH,fit:fitH,floris:florisH,edges:edgesH,marker:markerH,avgWidth:6.6,xt:bottomRowXTicks,yTitleX:1856,xLabel:'y [km]'});
drawTransect({id:'i',title:'x = 42.1 km',L:2543.5,T:1594,W:412,H:541,raw:rawI,span:rawSpanI,avg:avgI,free:freeI,fit:fitI,floris:florisI,edges:edgesI,marker:markerI,avgWidth:6.6,xt:bottomRowXTicks,yTitleX:2433,xLabel:'y [km]'});
drawTransect({id:'j',title:'x = 52.0 km',L:3121,T:1594,W:412,H:541,raw:rawJ,span:rawSpanJ,avg:avgJ,free:freeJ,fit:fitJ,floris:florisJ,edges:edgesJ,marker:markerJ,avgWidth:6.6,xt:bottomRowXTicks,yTitleX:3010,xLabel:'y [km]'});
</script>
</body>
</html>
